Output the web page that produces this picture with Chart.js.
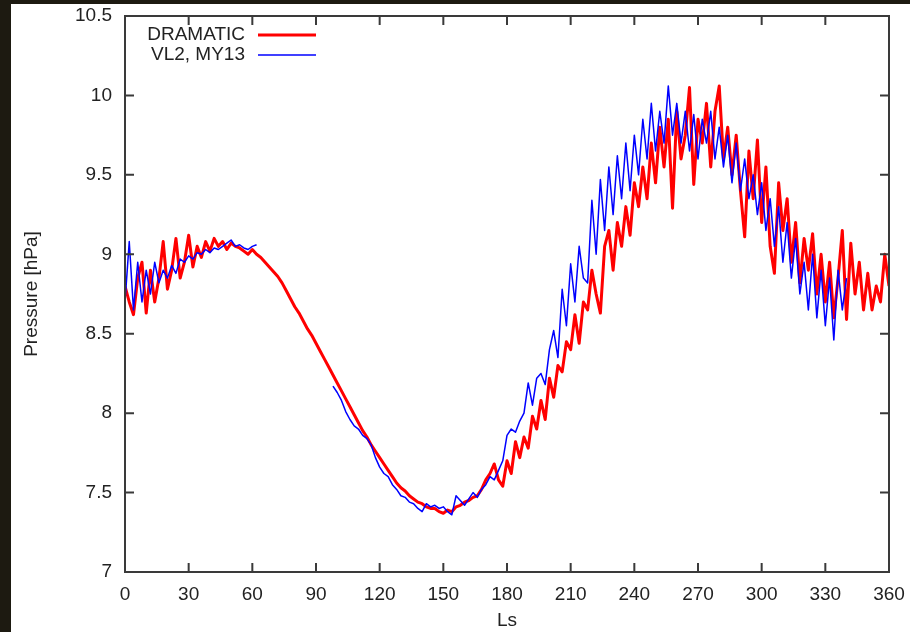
<!DOCTYPE html>
<html>
<head>
<meta charset="utf-8">
<script src="https://cdn.jsdelivr.net/npm/chart.js@4.4.1/dist/chart.umd.min.js"></script>
<style>
  html, body { margin: 0; padding: 0; background: #1d1a11; width: 910px; height: 632px; overflow: hidden; }
  #frame { position: absolute; left: 11px; top: 4px; width: 899px; height: 628px; background: #fff; }
</style>
</head>
<body>
<div id="frame"><canvas id="chart" width="899" height="628"></canvas></div>
<script>
// samples every 2 deg of Ls
const LS_STEP = 2

// DRAMATIC model, Ls 0..360
const dramaticPressure = [
  8.80, 8.70, 8.62, 8.85, 8.95, 8.63, 8.90, 8.70, 8.85, 9.08,
  8.78, 8.90, 9.10, 8.85, 8.95, 9.12, 8.92, 9.05, 8.98, 9.08,
  9.02, 9.10, 9.05, 9.08, 9.03, 9.07, 9.05, 9.04, 9.02, 9.00,
  9.03, 9.00, 8.98, 8.95, 8.92, 8.89, 8.86, 8.82, 8.77, 8.72,
  8.67, 8.63, 8.58, 8.53, 8.49, 8.44, 8.39, 8.34, 8.29, 8.24,
  8.19, 8.14, 8.09, 8.04, 7.99, 7.94, 7.89, 7.85, 7.80, 7.76,
  7.72, 7.68, 7.64, 7.60, 7.56, 7.53, 7.51, 7.48, 7.46, 7.44,
  7.43, 7.41, 7.40, 7.40, 7.38, 7.37, 7.39, 7.38, 7.41, 7.42,
  7.44, 7.45, 7.47, 7.48, 7.52, 7.58, 7.62, 7.68, 7.58, 7.54,
  7.70, 7.62, 7.82, 7.72, 7.85, 7.78, 7.98, 7.90, 8.08, 7.96,
  8.22, 8.10, 8.30, 8.26, 8.45, 8.40, 8.62, 8.44, 8.70, 8.65,
  8.90, 8.75, 8.63, 9.05, 9.15, 8.90, 9.20, 9.05, 9.30, 9.12,
  9.45, 9.30, 9.55, 9.35, 9.70, 9.45, 9.80, 9.55, 9.85, 9.29,
  9.90, 9.60, 9.75, 10.05, 9.44, 9.85, 9.70, 9.95, 9.55, 9.90,
  10.06, 9.60, 9.80, 9.50, 9.75, 9.40, 9.11, 9.65, 9.35, 9.72,
  9.20, 9.55, 9.05, 8.88, 9.45, 9.15, 9.35, 8.95, 9.20, 8.82,
  9.10, 8.90, 9.13, 8.75, 9.00, 8.70, 8.95, 8.60, 8.85, 9.15,
  8.59, 9.07, 8.75, 8.95, 8.65, 8.88, 8.65, 8.80, 8.70, 9.00,
  8.80
]

// Viking Lander 2, MY13 - first piece
const vl2StartA = 0
const vl2PressureA = [
  8.70, 9.08, 8.65, 8.95, 8.70, 8.90, 8.75, 8.95, 8.82, 8.90,
  8.85, 8.93, 8.88, 8.97, 8.95, 8.99, 8.97, 9.01, 9.00, 9.03,
  9.01, 9.04, 9.03, 9.05, 9.07, 9.09, 9.05, 9.06, 9.04, 9.03,
  9.05, 9.06
]

// second piece, after the data gap
const vl2StartB = 98
const vl2PressureB = [
  8.17, 8.13, 8.08, 8.01, 7.96, 7.92, 7.90, 7.86, 7.84, 7.80,
  7.72, 7.66, 7.62, 7.60, 7.55, 7.52, 7.48, 7.47, 7.44, 7.43,
  7.40, 7.38, 7.43, 7.41, 7.42, 7.40, 7.41, 7.38, 7.36, 7.48,
  7.45, 7.42, 7.46, 7.50, 7.47, 7.52, 7.55, 7.60, 7.58, 7.64,
  7.70, 7.86, 7.90, 7.88, 7.95, 8.00, 8.19, 8.05, 8.22, 8.25,
  8.18, 8.40, 8.52, 8.35, 8.78, 8.55, 8.94, 8.70, 9.05, 8.85,
  8.82, 9.34, 9.00, 9.47, 9.15, 9.55, 9.25, 9.62, 9.35, 9.70,
  9.40, 9.75, 9.50, 9.85, 9.60, 9.95, 9.65, 9.90, 9.70, 10.06,
  9.75, 9.95, 9.70, 9.90, 9.65, 9.88, 9.60, 9.85, 9.70, 9.90,
  9.60, 9.80, 9.55, 9.75, 9.45, 9.70, 9.40, 9.60, 9.35, 9.50,
  9.25, 9.45, 9.15, 9.35, 9.05, 9.30, 8.95, 9.20, 8.85, 9.10,
  8.75, 8.95, 8.65, 9.00, 8.60, 8.90, 8.55, 8.85, 8.46, 8.90,
  8.65, 8.85
]

const seriesNames = ['DRAMATIC', 'VL2, MY13']
const seriesColors = ['#ff0000', '#0000ff']

function toPoints(start, values) {
  return values.map((v, i) => ({x: start + i * LS_STEP, y: v}))
}

const vl2Points = toPoints(vl2StartA, vl2PressureA)
  .concat([{x: (vl2StartA + vl2PressureA.length * LS_STEP + vl2StartB) / 2, y: null}])
  .concat(toPoints(vl2StartB, vl2PressureB))

// gnuplot style border with inward ticks
const borderTicks = {
  id: 'borderTicks',
  afterDraw(chart) {
    const {ctx, chartArea: a, scales} = chart
    const len = 9
    ctx.save()
    ctx.strokeStyle = '#3a3a3a'
    ctx.lineWidth = 2
    ctx.strokeRect(a.left, a.top, a.right - a.left, a.bottom - a.top)
    ctx.beginPath()
    scales.x.ticks.forEach(t => {
      const px = scales.x.getPixelForValue(t.value)
      ctx.moveTo(px, a.bottom); ctx.lineTo(px, a.bottom - len)
      ctx.moveTo(px, a.top); ctx.lineTo(px, a.top + len)
    })
    scales.y.ticks.forEach(t => {
      const py = scales.y.getPixelForValue(t.value)
      ctx.moveTo(a.left, py); ctx.lineTo(a.left + len, py)
      ctx.moveTo(a.right, py); ctx.lineTo(a.right - len, py)
    })
    ctx.stroke()
    ctx.restore()
  }
}

// key in the top left corner, text then line sample
const keyBox = {
  id: 'keyBox',
  afterDraw(chart) {
    const {ctx, chartArea: a} = chart
    ctx.save()
    ctx.font = '19px "Liberation Sans", Arial, sans-serif'
    ctx.textAlign = 'right'
    ctx.textBaseline = 'middle'
    chart.data.datasets.forEach((ds, i) => {
      const y = a.top + 19 + i * 20
      ctx.fillStyle = '#222'
      ctx.fillText(ds.label, a.left + 120, y)
      ctx.strokeStyle = ds.borderColor
      ctx.lineWidth = ds.borderWidth
      ctx.beginPath()
      ctx.moveTo(a.left + 133, y)
      ctx.lineTo(a.left + 191, y)
      ctx.stroke()
    })
    ctx.restore()
  }
}

Chart.defaults.font.family = '"Liberation Sans", Arial, sans-serif'
Chart.defaults.font.size = 19
Chart.defaults.color = '#222'

new Chart(document.getElementById('chart'), {
  type: 'line',
  data: {
    datasets: [
      {
        label: seriesNames[0],
        data: toPoints(0, dramaticPressure),
        borderColor: seriesColors[0],
        borderWidth: 3,
        order: 2
      },
      {
        label: seriesNames[1],
        data: vl2Points,
        borderColor: seriesColors[1],
        borderWidth: 1.5,
        spanGaps: false,
        order: 1
      }
    ]
  },
  options: {
    responsive: false,
    animation: false,
    parsing: false,
    elements: {
      point: {radius: 0},
      line: {tension: 0, borderJoinStyle: 'round'}
    },
    layout: {padding: 0},
    plugins: {
      legend: {display: false},
      tooltip: {enabled: false}
    },
    scales: {
      x: {
        type: 'linear',
        min: 0,
        max: 360,
        grid: {display: false, drawTicks: false},
        border: {display: false},
        ticks: {stepSize: 30, autoSkip: false, maxRotation: 0, padding: 11},
        title: {display: true, text: 'Ls', padding: {top: 0, bottom: 0}},
        afterFit(s) {
          s.height = 60
          s.paddingLeft = 0
          s.paddingRight = 21
        }
      },
      y: {
        min: 7,
        max: 10.5,
        grid: {display: false, drawTicks: false},
        border: {display: false},
        ticks: {stepSize: 0.5, padding: 13, callback: v => String(v)},
        title: {display: true, text: 'Pressure [hPa]', padding: {top: 9, bottom: 0}},
        afterFit(s) {
          s.width = 114
          s.paddingTop = 12
          s.paddingBottom = 0
        }
      }
    }
  },
  plugins: [borderTicks, keyBox]
})
</script>
</body>
</html>
